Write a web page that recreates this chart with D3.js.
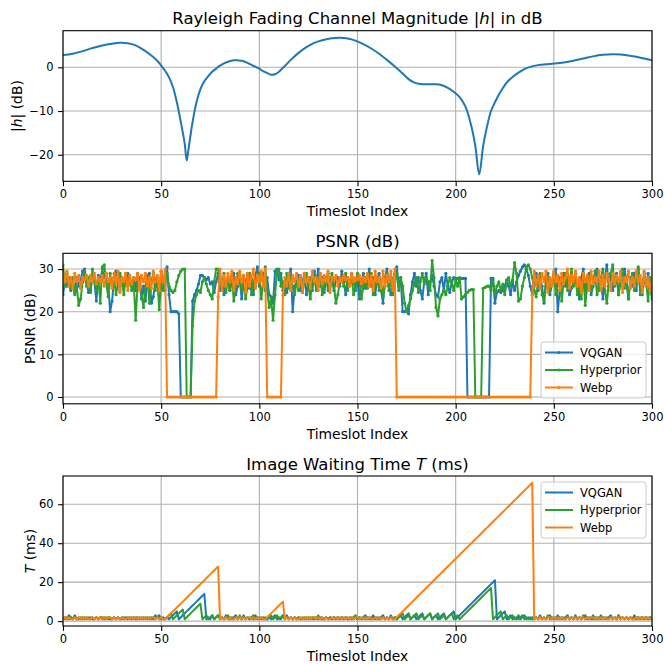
<!DOCTYPE html>
<html>
<head>
<meta charset="utf-8">
<script src="https://cdn.jsdelivr.net/npm/d3@7"></script>
<style>
  body { margin: 0; background: #fff; }
  text { font-family: "DejaVu Sans", sans-serif; }
</style>
</head>
<body>
<svg id="chart" width="664" height="664"></svg>
<script>
// ---- data ----
var xTicks = [0, 50, 100, 150, 200, 250, 300];
var channelTicks = [-20, -10, 0];
var psnrTicks = [0, 10, 20, 30];
var waitTicks = [0, 20, 40, 60];
var seriesNames = ["VQGAN", "Hyperprior", "Webp"];

// channel magnitude (dB), control points along the smooth curve
var channelSlot = [0, 5, 10, 15, 20, 25, 29, 33, 37, 41, 45, 48, 50, 52, 54, 56, 58, 60, 62, 63, 64, 66, 68, 70, 72, 74, 76, 78, 80, 83, 87, 91, 95, 99, 103, 106, 108, 110, 113, 116, 120, 124, 128, 132, 136, 141, 145, 149, 153, 157, 161, 165, 169, 173, 176, 179, 182, 186, 190, 193, 196, 199, 202, 205, 208, 210, 212, 214, 216, 218, 220, 223, 226, 229, 232, 235, 238, 242, 246, 250, 255, 260, 265, 270, 275, 280, 284, 288, 292, 296, 300];
var channelDb = [2.8, 3.1, 3.7, 4.4, 5.0, 5.4, 5.6, 5.5, 5.0, 4.0, 2.7, 1.5, 0.4, -0.8, -2.3, -4.5, -8.0, -12.5, -17.5, -21.3, -18.5, -12.5, -8.0, -5.0, -3.2, -2.0, -1.0, -0.3, 0.4, 1.1, 1.6, 1.5, 0.8, -0.1, -1.1, -1.7, -1.6, -1.0, 0.3, 1.7, 3.3, 4.6, 5.6, 6.2, 6.6, 6.75, 6.6, 6.1, 5.3, 4.3, 3.1, 1.7, 0.2, -1.4, -2.7, -3.5, -3.8, -3.9, -3.9, -4.1, -4.7, -5.6, -6.8, -9.0, -13.5, -18.0, -24.5, -18.0, -13.5, -10.0, -8.0, -5.5, -3.5, -2.2, -1.2, -0.4, 0.1, 0.5, 0.7, 0.85, 1.1, 1.5, 2.0, 2.5, 2.85, 3.0, 2.95, 2.7, 2.4, 2.0, 1.6];

// PSNR (dB), one value per timeslot 0..300
var psnrVqgan = [
  24, 27, 26, 28, 25, 27, 24.5, 28, 26, 27.5,
  29.5, 30, 27, 24.5, 25, 28, 27, 22.5, 28.5, 27,
  30, 28, 29, 27, 20, 22.5, 28, 29.5, 27.5, 25,
  28, 26, 27.5, 29, 26.5, 27, 28, 25, 29, 26.5,
  23, 26, 22.5, 28, 29, 22, 23.5, 27, 26, 25,
  29.5, 27, 25, 30.5, 24, 20, 20, 20, 20, 19.5,
  0, 0, 0, 0, 0, 0, 22.5, 24, 25, 26.5,
  28.5, 28.5, 28, 27.5, 28, 26.5, 27, 24.5, 27, 29,
  25, 27.5, 24, 26.5, 28, 25, 27, 29, 24, 26,
  28, 23, 26.5, 27, 29, 25.5, 27.5, 24, 28.5, 30.5,
  26, 28, 29, 25, 28, 24, 23.5, 22, 29.5, 30,
  27.5, 29, 25, 27, 24.5, 28, 30, 20, 26, 27,
  28.5, 25, 27, 29, 24, 26.5, 28, 25, 29.5, 27,
  30, 26, 28, 24.5, 27, 29, 26, 28, 25, 27.5,
  28, 26, 29.5, 27, 24, 28, 26.5, 29, 27, 25,
  28, 23, 27, 29, 25.5, 27, 30, 26, 28, 24,
  27.5, 29, 25, 22, 28, 30, 26, 24, 27.5, 29,
  30.5, 26, 28, 20, 20, 20.5, 19.5, 24, 27, 29,
  26, 28, 25, 23, 27, 29, 24, 27, 28.5, 26,
  24, 23.5, 27, 28, 25, 29, 26, 24.5, 27, 28,
  27.8, 27.8, 27.8, 27.8, 27.8, 27.8, 0, 0, 0, 0,
  0, 0, 0, 0, 0, 0, 0, 0, 27.8, 27.8,
  22, 24.5, 25, 24.5, 25, 26, 27.5, 26, 24, 27,
  25, 27, 28.5, 29.5, 30.5, 31, 30, 28.5, 26, 24,
  27, 29, 25, 28, 26, 22, 27.5, 29, 24, 26.5,
  28, 30, 20, 25, 27, 29, 26, 28, 24, 25.5,
  27, 29, 26, 23, 28, 30, 25, 27, 29, 24,
  26, 28, 30, 25, 27, 23, 28, 31, 26, 29,
  25, 27.5, 29, 24, 28, 26, 30, 27, 23, 28,
  26, 29, 25, 30, 27, 24, 28, 26, 29, 25.5,
  24
];
var psnrHyper = [
  31, 26, 29, 27, 25.5, 28, 24, 26, 21.5, 23,
  27, 29.5, 26, 28, 24.5, 30, 27, 25, 28, 22,
  30.5, 31, 27, 23.5, 29, 26, 28, 24, 26.5, 29,
  27.5, 24, 29, 26, 28, 25, 27, 18, 26.5, 28,
  24, 21, 26, 28.5, 22, 27, 29, 25, 28, 20.5,
  27, 25, 28, 29, 26, 25, 24.5, 25, 27, 28.5,
  29.5, 30, 30, 0, 0, 0, 16.7, 22.5, 24, 25,
  24.5, 27, 28, 26.5, 25, 24, 23, 27, 30, 30,
  28, 26, 29, 24.5, 27, 25, 28, 22.5, 26, 29,
  27, 25, 28.5, 23, 26, 29, 24, 27.5, 26, 28,
  29, 23, 27, 30.5, 25, 21, 23, 18, 24, 29.5,
  30, 26, 27, 24, 29, 25.5, 28, 26, 24, 27,
  25, 28, 24.5, 27, 29, 26, 23, 27.5, 28, 25,
  27, 29, 24, 26, 28, 25, 27, 29, 26, 22,
  24, 27, 28, 26, 29, 25, 27, 28, 24, 26,
  29, 27, 23, 26, 28, 25.5, 27, 29, 24, 26,
  28, 25, 27, 23.5, 26, 29, 25, 28, 24, 27,
  29, 25, 28, 26, 22, 20, 21.5, 23, 25, 26.5,
  28, 24.5, 27, 29, 26.5, 28, 27, 25, 32, 28,
  21, 19, 23, 24, 25, 24, 26, 28, 27, 25,
  27.5, 26, 28, 23, 23.5, 24, 24.5, 25, 25.2, 25.2,
  0, 0, 0, 0, 25.5, 25.7, 26, 26, 25, 27.5,
  24, 26, 27, 25, 26.5, 24, 27, 28, 26, 27.5,
  31.5, 29, 22.5, 23, 26, 28, 30.5, 31, 30, 28,
  25, 23.5, 27, 29, 24, 22.5, 26, 28, 25, 27,
  29, 24, 26.5, 28, 22.5, 27, 29, 25, 27, 30,
  26, 28, 24, 27, 23, 29, 21.5, 26, 28, 25,
  27, 29.5, 24, 26, 28, 30, 25, 22, 27, 29,
  31, 26, 28, 24, 27, 30, 25.5, 28, 23, 27,
  29, 25, 27.5, 30.5, 24, 26, 29, 27, 22.5, 28,
  23
];
var psnrWebp = [
  29, 27, 29.5, 26, 28, 25.5, 29, 27, 28.5, 25.5,
  28, 27.5, 28.5, 26, 28.5, 27, 29, 26.5, 28, 27,
  28.5, 26, 29, 27, 28, 25.5, 29, 26.5, 29.5, 24.5,
  28, 27, 29, 25, 28.5, 26.5, 28, 27.5, 29, 25,
  28.5, 27, 29, 26, 28, 25.5, 29.5, 27, 28.5, 25,
  29.5, 27, 30, 0, 0, 0, 0, 0, 0, 0,
  0, 0, 0, 0, 0, 0, 0, 0, 0, 0,
  0, 0, 0, 0, 0, 0, 0, 0, 0, 23.5,
  30, 25, 28.5, 26, 29, 27, 29.5, 25, 28, 26.5,
  29.5, 27, 28.5, 24.5, 29, 26, 28, 30, 25.5, 28.5,
  27, 29.5, 26, 30, 0, 0, 0, 0, 0, 0,
  0, 0, 24, 28, 26, 29, 25, 28.5, 27, 29,
  26, 28.5, 24.5, 29, 27, 28, 25.5, 29.5, 27, 28,
  25, 29, 26.5, 28.5, 27, 29.5, 24.5, 28, 27.5, 28.5,
  26, 28, 27, 28.5, 27.5, 28, 26, 29, 27, 28,
  27.5, 28.5, 26.5, 28, 27, 29, 26, 28.5, 25, 29.5,
  27, 28, 25.5, 29.5, 26, 28.5, 27, 29.5, 25, 30,
  0, 0, 0, 0, 0, 0, 0, 0, 0, 0,
  0, 0, 0, 0, 0, 0, 0, 0, 0, 0,
  0, 0, 0, 0, 0, 0, 0, 0, 0, 0,
  0, 0, 0, 0, 0, 0, 0, 0, 0, 0,
  0, 0, 0, 0, 0, 0, 0, 0, 0, 0,
  0, 0, 0, 0, 0, 0, 0, 0, 0, 0,
  0, 0, 0, 0, 0, 0, 0, 0, 0, 24,
  29.5, 26, 28.5, 25.5, 29, 27, 29.5, 24.5, 28, 26,
  29.5, 27, 28.5, 25, 29, 26.5, 28, 30, 25.5, 28.5,
  27, 29.5, 26, 28, 24.5, 29, 27, 28.5, 25, 29.5,
  26.5, 28, 27, 29.5, 25, 28.5, 26, 29, 27.5, 25,
  29, 26.5, 28.5, 27, 29.5, 24.5, 28, 27, 29.5, 25.5,
  28, 26, 29.5, 27, 28.5, 24.5, 29.5, 26, 28, 25,
  27.5
];

// image waiting time T (ms), one value per timeslot 0..300
var waitVqgan = [
  1, 2, 1, 3, 2, 1, 3, 1, 2, 1,
  2, 1, 2, 1, 2, 1, 1, 2, 1, 2,
  1, 2, 1, 2, 1, 1, 2, 1, 2, 1,
  2, 1, 2, 1, 2, 1, 2, 1, 1, 2,
  1, 2, 1, 2, 1, 2, 1, 3, 2, 3,
  1, 2, 1, 2, 1, 2, 3, 4, 5, 1,
  2, 3, 4, 5, 6, 7, 8, 9, 10, 11,
  12, 13, 14, 1, 2, 1, 3, 1, 2, 3,
  1, 2, 1, 3, 1, 2, 1, 2, 3, 1,
  2, 1, 3, 1, 2, 1, 2, 1, 3, 1,
  2, 1, 2, 1, 1, 2, 1, 2, 3, 1,
  2, 1, 3, 1, 3, 1, 2, 1, 2, 1,
  2, 1, 1, 2, 1, 2, 1, 2, 1, 2,
  1, 2, 1, 1, 2, 1, 2, 1, 2, 1,
  2, 1, 2, 1, 2, 1, 1, 2, 1, 2,
  1, 2, 1, 2, 3, 1, 2, 1, 3, 1,
  2, 1, 2, 3, 1, 2, 1, 3, 1, 2,
  1, 2, 3, 1, 2, 3, 4, 1, 2, 3,
  1, 2, 3, 4, 1, 2, 3, 4, 1, 2,
  3, 1, 2, 3, 4, 1, 2, 3, 4, 5,
  1, 2, 3, 4, 5, 6, 7, 8, 9, 10,
  11, 12, 13, 14, 15, 16, 17, 18, 19, 20,
  21, 1, 2, 3, 4, 5, 1, 2, 3, 1,
  2, 1, 3, 1, 2, 3, 1, 2, 1, 2,
  1, 2, 1, 3, 1, 2, 1, 2, 3, 1,
  2, 1, 3, 1, 2, 1, 2, 3, 1, 2,
  1, 3, 1, 2, 1, 2, 3, 1, 2, 1,
  3, 1, 2, 1, 3, 1, 2, 1, 2, 3,
  1, 2, 1, 3, 1, 2, 1, 2, 1, 2,
  1, 3, 1, 2, 1, 2, 1, 2, 1, 2,
  1
];
var waitHyper = [
  2, 1, 2, 1, 2, 1, 2, 1, 1, 2,
  1, 2, 1, 2, 1, 2, 1, 2, 1, 2,
  2, 1, 2, 1, 2, 1, 2, 1, 2, 1,
  1, 2, 1, 2, 1, 2, 1, 2, 2, 1,
  2, 1, 2, 1, 2, 1, 2, 1, 2, 1,
  2, 1, 1, 2, 3, 4, 1, 2, 3, 4,
  5, 6, 1, 2, 3, 4, 5, 6, 7, 8,
  9, 1, 2, 3, 1, 2, 3, 1, 2, 3,
  1, 2, 1, 2, 3, 1, 2, 1, 2, 1,
  3, 1, 2, 1, 2, 1, 2, 3, 1, 2,
  1, 2, 1, 2, 1, 2, 3, 1, 2, 3,
  1, 2, 3, 1, 2, 1, 2, 1, 2, 1,
  2, 1, 2, 1, 2, 1, 2, 1, 2, 1,
  3, 1, 2, 1, 2, 1, 2, 1, 2, 1,
  2, 1, 2, 1, 2, 1, 2, 1, 2, 3,
  1, 2, 1, 2, 1, 2, 1, 2, 1, 2,
  1, 2, 1, 2, 1, 2, 1, 2, 1, 2,
  1, 2, 3, 4, 1, 2, 3, 1, 2, 3,
  4, 1, 2, 3, 1, 2, 3, 4, 1, 2,
  3, 4, 1, 2, 3, 1, 2, 3, 4, 1,
  2, 3, 1, 2, 3, 4, 5, 6, 7, 8,
  9, 10, 11, 12, 13, 14, 15, 16, 17, 1,
  2, 3, 4, 5, 1, 2, 3, 1, 2, 3,
  1, 2, 1, 2, 3, 1, 2, 1, 2, 1,
  1, 2, 1, 2, 1, 2, 1, 3, 1, 2,
  1, 2, 1, 2, 1, 2, 1, 2, 1, 2,
  1, 2, 1, 2, 1, 3, 1, 2, 1, 2,
  1, 2, 1, 2, 1, 2, 1, 2, 1, 2,
  1, 2, 1, 3, 1, 2, 1, 2, 1, 2,
  1, 2, 1, 2, 1, 2, 1, 2, 1, 2,
  1
];
var waitWebp = [
  1, 2, 1, 2, 1, 1, 2, 1, 2, 1,
  2, 1, 2, 1, 1, 2, 1, 2, 1, 2,
  1, 2, 1, 2, 2, 1, 2, 1, 2, 1,
  2, 1, 1, 2, 1, 2, 1, 2, 1, 2,
  1, 2, 1, 2, 1, 2, 2, 1, 2, 1,
  2, 1, 1, 2, 3, 4, 5, 6, 7, 8,
  9, 10, 11, 12, 13, 14, 15, 16, 17, 18,
  19, 20, 21, 22, 23, 24, 25, 26, 27, 28,
  1, 2, 1, 2, 1, 2, 1, 1, 2, 1,
  2, 1, 2, 1, 2, 2, 1, 2, 1, 2,
  1, 2, 1, 1, 2, 3, 4, 5, 6, 7,
  8, 9, 10, 1, 2, 1, 2, 1, 2, 1,
  1, 2, 1, 2, 1, 2, 1, 2, 2, 1,
  2, 1, 2, 1, 2, 1, 1, 2, 1, 2,
  1, 2, 1, 2, 1, 2, 1, 2, 1, 2,
  2, 1, 2, 1, 2, 1, 2, 1, 1, 2,
  1, 2, 1, 2, 1, 2, 1, 2, 1, 1,
  2, 3, 4, 5, 6, 7, 8, 9, 10, 11,
  12, 13, 14, 15, 16, 17, 18, 19, 20, 21,
  22, 23, 24, 25, 26, 27, 28, 29, 30, 31,
  32, 33, 34, 35, 36, 37, 38, 39, 40, 41,
  42, 43, 44, 45, 46, 47, 48, 49, 50, 51,
  52, 53, 54, 55, 56, 57, 58, 59, 60, 61,
  62, 63, 64, 65, 66, 67, 68, 69, 70, 71,
  1, 2, 1, 2, 1, 2, 1, 2, 2, 1,
  2, 1, 2, 1, 2, 1, 1, 2, 1, 2,
  1, 2, 1, 2, 1, 2, 1, 2, 1, 2,
  2, 1, 2, 1, 2, 1, 2, 1, 1, 2,
  1, 2, 1, 2, 1, 2, 1, 2, 1, 2,
  1, 1, 2, 1, 2, 1, 2, 1, 2, 1,
  2
];

[["psnrVqgan", psnrVqgan], ["psnrHyper", psnrHyper], ["psnrWebp", psnrWebp],
 ["waitVqgan", waitVqgan], ["waitHyper", waitHyper], ["waitWebp", waitWebp]].forEach(function(p){
    if (p[1].length !== 301) throw new Error(p[0] + " has " + p[1].length + " values");
});

// ---- drawing ----
var colors = ["#1f77b4", "#2ca02c", "#ff7f0e"];
var left = 63, right = 652;
var svg = d3.select("#chart");
var clipId = 0;

var drawPanel = function(opt){
    var g = svg.append("g");
    var x = d3.scaleLinear().domain([0, 300]).range([left, right]);
    var y = d3.scaleLinear().domain(opt.yDomain).range([opt.bottom, opt.top]);

    // grid
    g.selectAll(".gx").data(xTicks).enter().append("line")
        .attr("x1", function(d){ return x(d); }).attr("x2", function(d){ return x(d); })
        .attr("y1", opt.top).attr("y2", opt.bottom)
        .style("stroke", "#b0b0b0").style("stroke-width", 1.1);
    g.selectAll(".gy").data(opt.yTicks).enter().append("line")
        .attr("x1", left).attr("x2", right)
        .attr("y1", function(d){ return y(d); }).attr("y2", function(d){ return y(d); })
        .style("stroke", "#b0b0b0").style("stroke-width", 1.1);

    clipId += 1;
    g.append("clipPath").attr("id", "clip" + clipId).append("rect")
        .attr("x", left).attr("y", opt.top).attr("width", right - left).attr("height", opt.bottom - opt.top);
    var plot = g.append("g").attr("clip-path", "url(#clip" + clipId + ")");

    opt.series.forEach(function(s){
        var line = d3.line()
            .x(function(d, i){ return x(s.xs ? s.xs[i] : i); })
            .y(function(d){ return y(d); });
        if (s.curve) line.curve(s.curve);
        plot.append("path").datum(s.values)
            .attr("d", line)
            .style("fill", "none").style("stroke", s.color).style("stroke-width", 2)
            .style("stroke-linejoin", "round");
        if (s.markers) {
            plot.selectAll(null).data(s.values).enter().append("circle")
                .attr("cx", function(d, i){ return x(i); })
                .attr("cy", function(d){ return y(d); })
                .attr("r", 1.6)
                .style("fill", s.color);
        }
    });

    // axes
    var ax = g.append("g").attr("transform", "translate(0," + opt.bottom + ")")
        .call(d3.axisBottom(x).tickValues(xTicks).tickSize(4.9).tickPadding(4).tickFormat(d3.format("d")));
    var ay = g.append("g").attr("transform", "translate(" + left + ",0)")
        .call(d3.axisLeft(y).tickValues(opt.yTicks).tickSize(4.9).tickPadding(4.5).tickFormat(d3.format("d")));
    [ax, ay].forEach(function(a){
        a.select(".domain").remove();
        a.selectAll("line").style("stroke", "#000").style("stroke-width", 1.1);
        a.selectAll("text").style("font-size", "11.5px").style("fill", "#000")
            .style("font-family", "'DejaVu Sans', sans-serif");
    });

    // spines
    g.append("rect").attr("x", left).attr("y", opt.top)
        .attr("width", right - left).attr("height", opt.bottom - opt.top)
        .style("fill", "none").style("stroke", "#000").style("stroke-width", 1.1);

    // title
    var t = g.append("text").attr("x", (left + right) / 2).attr("y", opt.top - 6.5)
        .attr("text-anchor", "middle").style("font-size", "16.5px");
    opt.title.forEach(function(part){
        t.append("tspan").text(part[0]).style("font-style", part[1] ? "italic" : "normal");
    });

    // x label
    g.append("text").attr("x", (left + right) / 2).attr("y", opt.bottom + 35)
        .attr("text-anchor", "middle").style("font-size", "13.9px").text("Timeslot Index");

    // y label
    var yl = g.append("text")
        .attr("transform", "translate(" + opt.yLabelX + "," + ((opt.top + opt.bottom) / 2) + ") rotate(-90)")
        .attr("text-anchor", "middle").style("font-size", "13.9px");
    opt.yLabel.forEach(function(part){
        yl.append("tspan").text(part[0]).style("font-style", part[1] ? "italic" : "normal");
    });

    if (opt.legend) {
        var L = opt.legend;
        var lg = g.append("g");
        lg.append("rect").attr("x", L.x).attr("y", L.y).attr("width", 105).attr("height", 56)
            .attr("rx", 3).style("fill", "#fff").style("fill-opacity", 0.8)
            .style("stroke", "#cccccc").style("stroke-width", 1);
        seriesNames.forEach(function(name, i){
            var cy = L.y + 10.5 + i * 17.5;
            lg.append("line").attr("x1", L.x + 4).attr("x2", L.x + 32).attr("y1", cy).attr("y2", cy)
                .style("stroke", colors[i]).style("stroke-width", 2);
            if (L.markers) {
                lg.append("circle").attr("cx", L.x + 18).attr("cy", cy).attr("r", 1.6).style("fill", colors[i]);
            }
            lg.append("text").attr("x", L.x + 39).attr("y", cy + 4.2)
                .style("font-size", "11.5px").text(name);
        });
    }
};

drawPanel({
    top: 30.7, bottom: 181.3, yDomain: [-26.07, 8.37], yTicks: channelTicks,
    title: [["Rayleigh Fading Channel Magnitude |", false], ["h", true], ["| in dB", false]],
    yLabel: [["|", false], ["h", true], ["| (dB)", false]], yLabelX: 22,
    series: [{ values: channelDb, xs: channelSlot, color: colors[0], curve: d3.curveCatmullRom.alpha(0.5) }]
});

drawPanel({
    top: 253.3, bottom: 403.8, yDomain: [-1.6, 33.7], yTicks: psnrTicks,
    title: [["PSNR (dB)", false]],
    yLabel: [["PSNR (dB)", false]], yLabelX: 35,
    series: [
        { values: psnrVqgan, color: colors[0], markers: true },
        { values: psnrHyper, color: colors[1], markers: true },
        { values: psnrWebp, color: colors[2], markers: true }
    ],
    legend: { x: 541, y: 342, markers: true }
});

drawPanel({
    top: 476, bottom: 626, yDomain: [-2.5, 74.5], yTicks: waitTicks,
    title: [["Image Waiting Time ", false], ["T", true], [" (ms)", false]],
    yLabel: [["T", true], [" (ms)", false]], yLabelX: 35,
    series: [
        { values: waitVqgan, color: colors[0] },
        { values: waitHyper, color: colors[1] },
        { values: waitWebp, color: colors[2] }
    ],
    legend: { x: 541, y: 482, markers: false }
});
</script>
</body>
</html>
